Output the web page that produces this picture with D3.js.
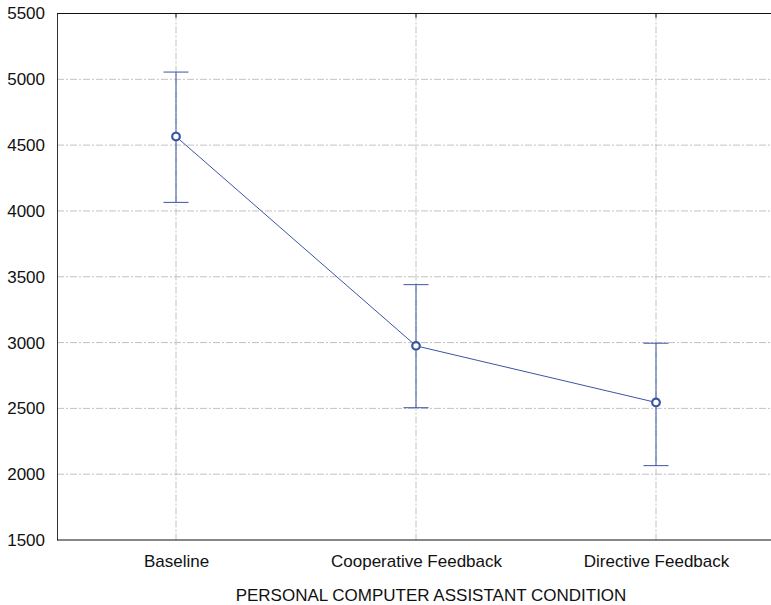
<!DOCTYPE html>
<html><head><meta charset="utf-8">
<script src="https://cdn.jsdelivr.net/npm/d3@7"></script>
<style>body{margin:0;background:#fff}svg{display:block}text{font-family:"Liberation Sans",Arial,sans-serif}</style>
</head><body><svg id="c" width="771" height="605"></svg>
<script>
const categories = ["Baseline", "Cooperative Feedback", "Directive Feedback"];
const means = [4565, 2975, 2545];
const upper = [5055, 3440, 2995];
const lower = [4065, 2505, 2065];
const yTicks = [1500, 2000, 2500, 3000, 3500, 4000, 4500, 5000, 5500];
const xTitle = "PERSONAL COMPUTER ASSISTANT CONDITION";

const svg = d3.select("#c");
const L = 57, R = 771, T = 13.5, B = 540;
const x = d3.scalePoint().domain(categories).range([56, 776]).padding(0.5);
const y = d3.scaleLinear().domain([1500, 5500]).range([B, T]);
const blue = "#3b55a5", grid = "#c2c2c2";

// grid
svg.append("g").selectAll("line").data(yTicks.filter(d => d > 1500 && d < 5500)).join("line")
  .attr("x1", L).attr("x2", R).attr("y1", d => y(d)).attr("y2", d => y(d))
  .attr("stroke", grid).attr("stroke-width", 1).attr("stroke-dasharray", "7,2,2,2");
svg.append("g").selectAll("line").data(categories).join("line")
  .attr("x1", d => x(d)).attr("x2", d => x(d)).attr("y1", T).attr("y2", B)
  .attr("stroke", grid).attr("stroke-width", 1).attr("stroke-dasharray", "7,2,2,2");

// axes
const yAxis = svg.append("g").attr("transform", `translate(${L},0)`)
  .call(d3.axisLeft(y).tickValues(yTicks).tickSize(0).tickPadding(12).tickFormat(d3.format("d")));
yAxis.select(".domain").attr("stroke", "#333");
yAxis.selectAll("text").attr("font-size", 17).attr("fill", "#111");

const xAxis = svg.append("g").attr("transform", `translate(0,${B})`)
  .call(d3.axisBottom(x).tickSize(0).tickPadding(15));
xAxis.select(".domain").attr("d", `M${L},0H${R}`).attr("stroke", "#111");
xAxis.selectAll("text").attr("font-size", 17).attr("fill", "#111");

svg.append("line").attr("x1", L).attr("x2", R).attr("y1", T).attr("y2", T).attr("stroke", "#111");
svg.append("g").selectAll("line").data(categories).join("line")
  .attr("x1", d => x(d)).attr("x2", d => x(d)).attr("y1", T).attr("y2", T + 4).attr("stroke", "#111");

svg.append("text").attr("x", 431).attr("y", 601).attr("text-anchor", "middle")
  .attr("font-size", 17).attr("fill", "#111").text(xTitle);

// error bars
const eb = svg.append("g").attr("stroke", blue).attr("stroke-width", 1);
categories.forEach((c, i) => {
  eb.append("line").attr("x1", x(c)).attr("x2", x(c)).attr("y1", y(upper[i])).attr("y2", y(lower[i]));
  eb.append("line").attr("x1", x(c) - 12.5).attr("x2", x(c) + 12.5).attr("y1", y(upper[i])).attr("y2", y(upper[i]));
  eb.append("line").attr("x1", x(c) - 12.5).attr("x2", x(c) + 12.5).attr("y1", y(lower[i])).attr("y2", y(lower[i]));
});

// line
svg.append("path").datum(means)
  .attr("d", d3.line().x((d, i) => x(categories[i])).y(d => y(d)))
  .attr("fill", "none").attr("stroke", blue).attr("stroke-width", 1);

svg.append("g").selectAll("circle").data(means).join("circle")
  .attr("cx", (d, i) => x(categories[i])).attr("cy", d => y(d)).attr("r", 3.8)
  .attr("fill", "#fff").attr("stroke", blue).attr("stroke-width", 2.2);
</script></body></html>
